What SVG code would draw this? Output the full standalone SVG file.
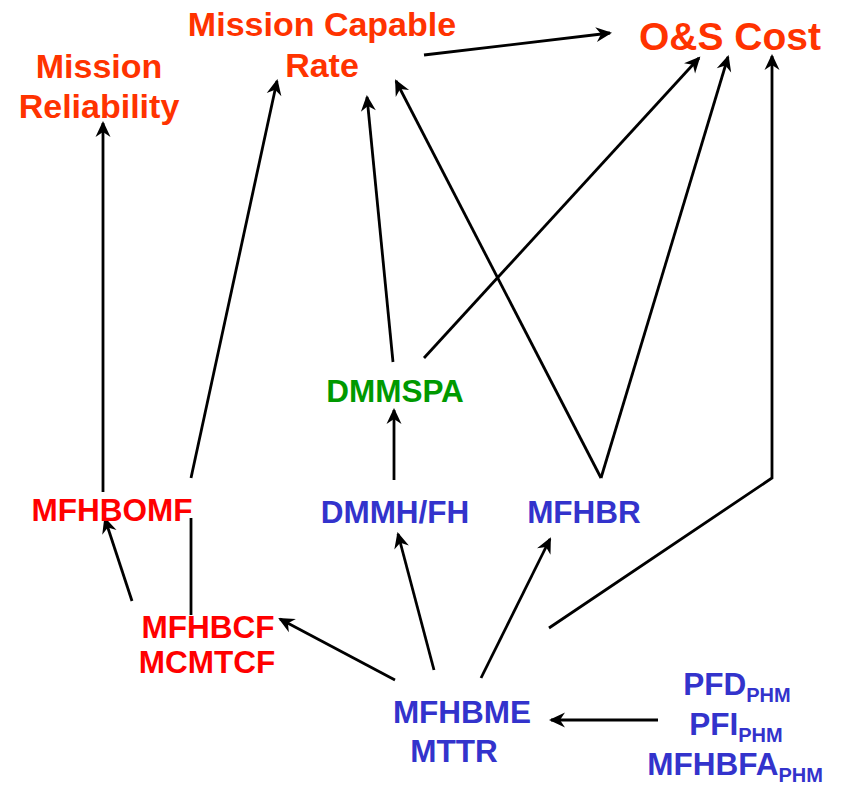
<svg xmlns="http://www.w3.org/2000/svg" width="841" height="785" viewBox="0 0 841 785">
<style>
text{font-family:"Liberation Sans",Arial,sans-serif;font-weight:bold;text-anchor:middle}
.top{fill:#FF3300;font-size:34px}
.os{fill:#FF3300;font-size:39px}
.red{fill:#FF0000;font-size:31.5px}
.blue{fill:#3333CC;font-size:31.5px}
.green{fill:#009900;font-size:31.5px}
.sub{font-size:20px}
.c line,.c polyline{stroke:#000;stroke-width:2.8;fill:none}
.arr{marker-end:url(#ah)}
</style>
<defs>
<marker id="ah" markerUnits="userSpaceOnUse" viewBox="-18 -9 22 18" markerWidth="22" markerHeight="18" refX="0" refY="0" orient="auto">
<path d="M2,0 L-14,-7.5 L-9,0 L-14,7.5 Z" fill="#000"/>
</marker>
</defs>
<rect width="841" height="785" fill="#fff"/>
<g class="c" id="connectors">
<line class="arr" x1="103" y1="492" x2="103" y2="123"/>
<line x1="191" y1="615" x2="191" y2="518"/>
<line class="arr" x1="191" y1="478" x2="277" y2="81"/>
<line class="arr" x1="132" y1="601" x2="105" y2="519"/>
<line class="arr" x1="395" y1="680" x2="280" y2="619"/>
<line class="arr" x1="434" y1="670" x2="398" y2="534"/>
<line class="arr" x1="481" y1="678" x2="550" y2="539"/>
<polyline class="arr" points="549,628 772,478 772,56"/>
<line class="arr" x1="394" y1="480" x2="394" y2="410"/>
<line class="arr" x1="393" y1="362" x2="367" y2="97"/>
<line class="arr" x1="424" y1="358" x2="699" y2="58"/>
<line class="arr" x1="601" y1="478" x2="396" y2="81"/>
<line class="arr" x1="601" y1="478" x2="728" y2="57"/>
<line class="arr" x1="424" y1="55" x2="610" y2="33"/>
<line class="arr" x1="658" y1="720" x2="551" y2="720"/>
</g>
<g id="mission-capable-rate"><text class="top" x="322" y="36">Mission Capable</text><text class="top" x="322" y="77">Rate</text></g>
<g id="mission-reliability"><text class="top" x="99" y="78">Mission</text><text class="top" x="99" y="118">Reliability</text></g>
<g id="os-cost"><text class="os" x="730" y="50">O&amp;S Cost</text></g>
<g id="dmmspa"><text class="green" x="395" y="402">DMMSPA</text></g>
<g id="mfhbomf"><text class="red" x="112" y="521">MFHBOMF</text></g>
<g id="dmmh-fh"><text class="blue" x="395" y="523">DMMH/FH</text></g>
<g id="mfhbr"><text class="blue" x="584" y="523">MFHBR</text></g>
<g id="mfhbcf"><text class="red" x="208" y="638">MFHBCF</text><text class="red" x="207" y="673">MCMTCF</text></g>
<g id="mfhbme"><text class="blue" x="462" y="723">MFHBME</text><text class="blue" x="454" y="762">MTTR</text></g>
<g id="phm">
<text class="blue" x="737" y="695">PFD<tspan class="sub" dy="7">PHM</tspan></text>
<text class="blue" x="736" y="735">PFI<tspan class="sub" dy="7">PHM</tspan></text>
<text class="blue" x="735" y="775">MFHBFA<tspan class="sub" dy="7">PHM</tspan></text>
</g>
</svg>
